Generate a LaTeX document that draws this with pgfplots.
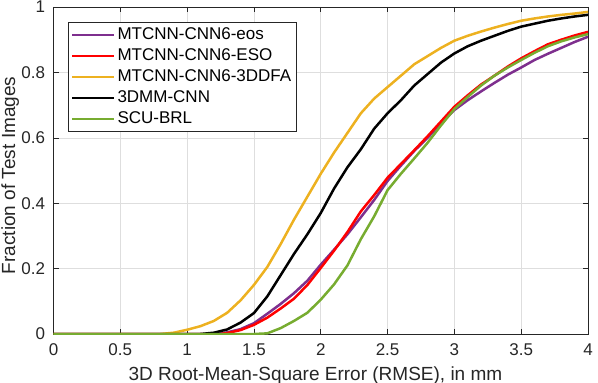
\documentclass[border=0pt]{standalone}
\usepackage{fontspec}
\setmainfont{Liberation Sans}
\usepackage{pgfplots}
\pgfplotsset{compat=1.18}
\definecolor{mpurple}{rgb}{0.494,0.184,0.556}
\definecolor{mred}{rgb}{1,0,0}
\definecolor{myellow}{rgb}{0.929,0.694,0.125}
\definecolor{mgreen}{rgb}{0.466,0.674,0.188}
\definecolor{axgray}{rgb}{0.15,0.15,0.15}
\begin{document}
\begin{tikzpicture}
\begin{axis}[name=ax, scale only axis, width=534.5bp, height=327bp,
  xmin=0, xmax=4, ymin=0, ymax=1,
  xtick={0,0.5,1,1.5,2,2.5,3,3.5,4},
  xticklabels={0,0.5,1,1.5,2,2.5,3,3.5,4},
  ytick={0,0.2,0.4,0.6,0.8,1},
  yticklabels={0,0.2,0.4,0.6,0.8,1},
  grid=major, grid style={color=black!13, line width=0.6bp},
  axis line style={color=axgray, line width=0.6bp},
  tick align=inside, major tick length=5bp,
  tick style={color=axgray, line width=0.6bp},
  tick label style={font=\fontsize{17bp}{20bp}\selectfont, text=axgray},
  xticklabel style={yshift=-6bp},
  yticklabel style={xshift=-5bp},
  xlabel={3D Root-Mean-Square Error (RMSE), in mm},
  ylabel={Fraction of Test Images},
  xlabel style={at={(axis description cs:0.49,-0.1415)}, anchor=base, font=\fontsize{19bp}{22bp}\selectfont, text=axgray},
  ylabel style={at={(axis description cs:-0.072,0.485)}, anchor=base, font=\fontsize{19bp}{22bp}\selectfont, text=axgray},
  legend style={at={(0,1)}, anchor=north west, xshift=14.5bp, yshift=-15bp,
    draw=axgray, line width=0.6bp, fill=white, inner xsep=2.7bp, inner ysep=2bp,
    font=\fontsize{17bp}{20bp}\selectfont, text=black,
    nodes={inner sep=2bp, text height=13bp, text depth=4bp},
    row sep=0bp, column sep=0bp, cells={anchor=west}},
  legend image code/.code={\draw[#1] (0bp,0bp) -- (42bp,0bp);},
  every axis plot/.append style={line width=2.5bp, line join=round},
]
% MTCNN-CNN6-eos
\addplot[color=mpurple] coordinates {
(0,0) (1.2,0) (1.3,0.005) (1.4,0.015) (1.5,0.033) (1.6,0.062) (1.7,0.092) (1.8,0.125) (1.9,0.163)
(2.0,0.212) (2.1,0.258) (2.2,0.305) (2.3,0.357) (2.4,0.41) (2.5,0.468) (2.6,0.515) (2.7,0.56)
(2.8,0.6) (2.9,0.645) (3.0,0.685) (3.1,0.715) (3.2,0.742) (3.3,0.768) (3.4,0.793) (3.5,0.815)
(3.6,0.838) (3.7,0.857) (3.8,0.875) (3.9,0.893) (4.0,0.909)};
\addlegendentry{MTCNN-CNN6-eos}
% MTCNN-CNN6-ESO
\addplot[color=mred] coordinates {
(0,0) (1.25,0) (1.3,0.003) (1.4,0.012) (1.5,0.028) (1.6,0.05) (1.7,0.078) (1.8,0.108) (1.9,0.15)
(2.0,0.202) (2.1,0.255) (2.2,0.312) (2.3,0.375) (2.4,0.425) (2.5,0.478) (2.6,0.52) (2.7,0.562)
(2.8,0.605) (2.9,0.65) (3.0,0.695) (3.1,0.73) (3.2,0.763) (3.3,0.79) (3.4,0.818) (3.5,0.843)
(3.6,0.865) (3.7,0.886) (3.8,0.9) (3.9,0.913) (4.0,0.924)};
\addlegendentry{MTCNN-CNN6-ESO}
% MTCNN-CNN6-3DDFA
\addplot[color=myellow] coordinates {
(0,0) (0.8,0) (0.9,0.004) (1.0,0.013) (1.1,0.024) (1.2,0.04) (1.3,0.065) (1.4,0.103) (1.5,0.15)
(1.6,0.205) (1.7,0.275) (1.8,0.35) (1.9,0.42) (2.0,0.49) (2.1,0.555) (2.2,0.615) (2.3,0.675)
(2.4,0.72) (2.5,0.755) (2.6,0.79) (2.7,0.825) (2.8,0.85) (2.9,0.875) (3.0,0.897) (3.1,0.912)
(3.2,0.925) (3.3,0.937) (3.4,0.948) (3.5,0.958) (3.6,0.965) (3.7,0.971) (3.8,0.976) (3.9,0.98) (4.0,0.985)};
\addlegendentry{MTCNN-CNN6-3DDFA}
% 3DMM-CNN
\addplot[color=black] coordinates {
(0,0) (1.1,0) (1.2,0.004) (1.3,0.014) (1.4,0.035) (1.5,0.064) (1.6,0.115) (1.7,0.18) (1.8,0.245)
(1.9,0.305) (2.0,0.37) (2.1,0.445) (2.2,0.51) (2.3,0.565) (2.4,0.628) (2.5,0.675) (2.6,0.715)
(2.7,0.76) (2.8,0.795) (2.9,0.83) (3.0,0.858) (3.1,0.88) (3.2,0.897) (3.3,0.912) (3.4,0.927)
(3.5,0.94) (3.6,0.949) (3.7,0.958) (3.8,0.965) (3.9,0.971) (4.0,0.976)};
\addlegendentry{3DMM-CNN}
% SCU-BRL
\addplot[color=mgreen] coordinates {
(0,0) (1.5,0) (1.6,0.002) (1.7,0.018) (1.8,0.04) (1.9,0.065) (2.0,0.105) (2.1,0.152) (2.2,0.21)
(2.3,0.29) (2.4,0.36) (2.5,0.44) (2.6,0.49) (2.7,0.537) (2.8,0.585) (2.9,0.638) (3.0,0.688)
(3.1,0.725) (3.2,0.76) (3.3,0.79) (3.4,0.815) (3.5,0.838) (3.6,0.86) (3.7,0.88) (3.8,0.895)
(3.9,0.907) (4.0,0.917)};
\addlegendentry{SCU-BRL}
\end{axis}
\pgfresetboundingbox
\path ([shift={(-53.5bp,-48bp)}]ax.south west) rectangle ([shift={(10bp,7bp)}]ax.north east);
\end{tikzpicture}
\end{document}
